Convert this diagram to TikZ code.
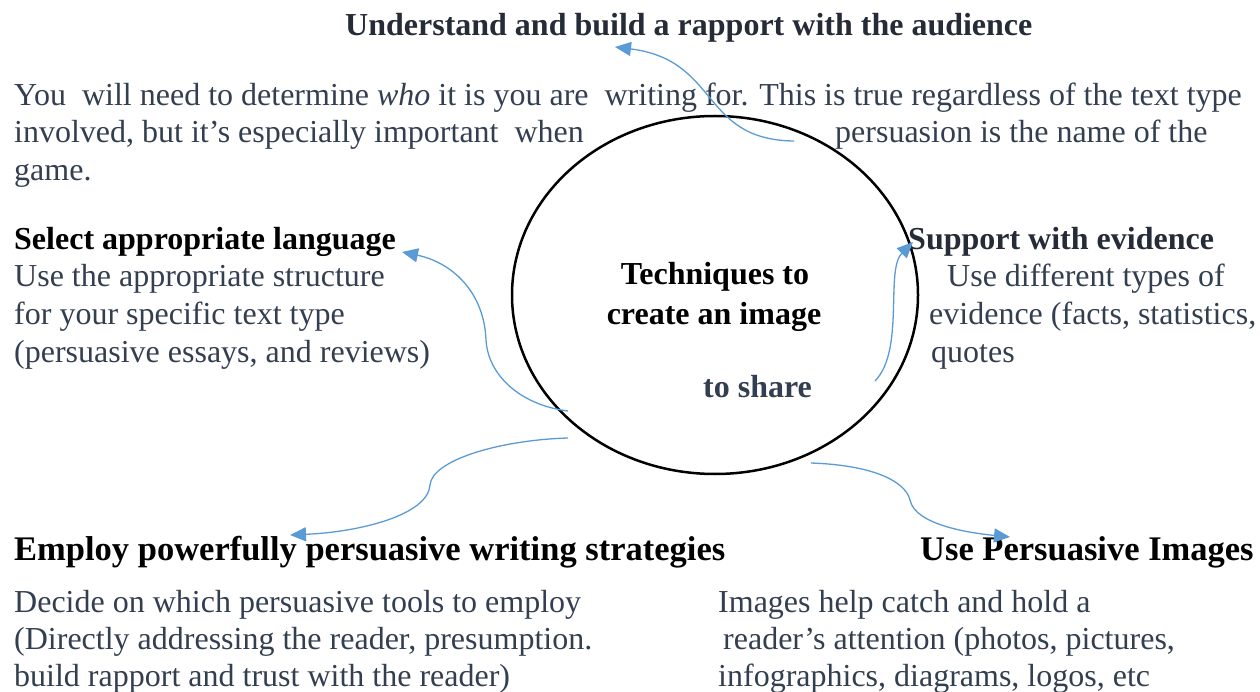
\documentclass[tikz,border=0pt]{standalone}
\usepackage{fontspec}
\setmainfont{Liberation Serif}
\usetikzlibrary{arrows.meta,shapes.geometric}
\definecolor{bodyc}{HTML}{333F50}
\definecolor{headc}{HTML}{262B38}
\definecolor{arrc}{HTML}{5B9BD5}
\begin{document}
\begin{tikzpicture}[x=1pt,y=-1pt,
  txt/.style={anchor=base west, inner sep=0pt, text=bodyc, font=\fontsize{32}{38}\selectfont},
  hd/.style={anchor=base west, inner sep=0pt, text=black, font=\fontsize{32}{38}\selectfont\bfseries},
  bighd/.style={anchor=base west, inner sep=0pt, text=black, font=\fontsize{34.5}{40}\selectfont\bfseries},
  conn/.style={draw=arrc, line width=1.3pt, -{Triangle[length=16pt,width=14pt]}},
  hub/.style={draw=black, ellipse, line width=2.5pt, minimum width=406pt, minimum height=358pt, inner sep=0pt}
]
\useasboundingbox (0,0) rectangle (1260,692);

% centre
\node[hub] (hub) at (715,295) {};
\node[hd, anchor=base] (tech1) at (715,285) {Techniques to};
\node[hd, anchor=base] (tech2) at (714,325) {create an image};
\node[hd, text=bodyc] (tech3) at (703,397) {to share};

% top
\node[hd, text=headc] (title) at (345,36) {Understand and build a rapport with the audience};
\node[txt] (p1) at (14,106) {You\ \ will need to determine \emph{who} it is you are\ \ writing for. This is true regardless of the text type};
\node[txt] (p2) at (14,143) {involved, but it’s especially important\ \ when};
\node[txt] (p2b) at (835,143) {persuasion is the name of the};
\node[txt] (p3) at (14,181) {game.};

% left
\node[hd] (sel) at (14,250) {Select appropriate language};
\node[txt] (sel1) at (14,287) {Use the appropriate structure};
\node[txt] (sel2) at (14,324) {for your specific text type};
\node[txt] (sel3) at (14,362) {(persuasive essays, and reviews)};

% right
\node[hd, text=headc] (sup) at (908,250) {Support with evidence};
\node[txt] (sup1) at (947,287) {Use different types of};
\node[txt] (sup2) at (929,324) {evidence (facts, statistics,};
\node[txt] (sup3) at (931,362) {quotes};

% bottom left
\node[bighd] (emp) at (14,560) {Employ powerfully persuasive writing strategies};
\node[txt] (emp1) at (14,612) {Decide on which persuasive tools to employ};
\node[txt] (emp2) at (14,649) {(Directly addressing the reader, presumption.};
\node[txt] (emp3) at (14,686) {build rapport and trust with the reader)};

% bottom right
\node[bighd] (img) at (920,560) {Use Persuasive Images};
\node[txt] (img1) at (718,612) {Images help catch and hold a};
\node[txt] (img2) at (723,649) {reader’s attention (photos, pictures,};
\node[txt] (img3) at (718,686) {infographics, diagrams, logos, etc};

% connector end points
\coordinate (aS) at (794,141);  \coordinate (aE) at (615,47);
\coordinate (bS) at (568,411);  \coordinate (bE) at (402,252);
\coordinate (cS) at (875,381);  \coordinate (cE) at (913,242);
\coordinate (dS) at (568,438);  \coordinate (dE) at (290,535);
\coordinate (eS) at (811,463);  \coordinate (eE) at (1010,537);

\draw[conn] (aS) .. controls (700,140) and (720,60) .. (aE);
\draw[conn] (bS) .. controls (520,405) and (488,375) .. (486,340) .. controls (484,290) and (450,262) .. (bE);
\draw[conn] (cS) .. controls (905,350) and (885,270) .. (cE);
\draw[conn] (dS) .. controls (500,440) and (432,460) .. (430,485) .. controls (428,515) and (360,532) .. (dE);
\draw[conn] (eS) .. controls (870,465) and (905,480) .. (910,500) .. controls (915,525) and (970,533) .. (eE);
\end{tikzpicture}
\end{document}
